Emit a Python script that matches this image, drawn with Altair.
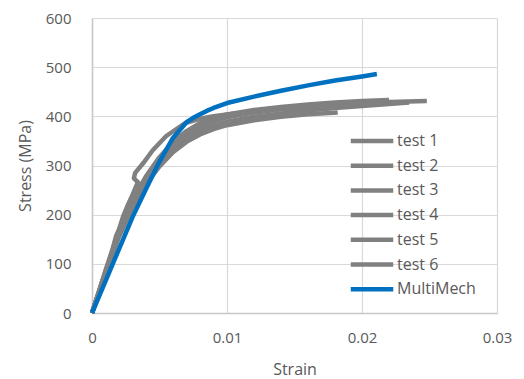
import altair as alt
import pandas as pd

series_names = ["test 1", "test 2", "test 3", "test 4", "test 5", "test 6", "MultiMech"]

test1_strain = [0, 0.001, 0.002, 0.003, 0.004, 0.005, 0.006, 0.007, 0.008, 0.009, 0.010, 0.012, 0.014, 0.016, 0.018, 0.020, 0.022, 0.0248]
test1_stress = [0, 82, 160, 225, 272, 310, 340, 362, 378, 390, 398, 408, 415, 420, 424, 427, 429, 431]

test2_strain = [0, 0.001, 0.002, 0.003, 0.004, 0.005, 0.006, 0.007, 0.008, 0.009, 0.010, 0.012, 0.014, 0.016, 0.018, 0.020, 0.0220]
test2_stress = [0, 85, 165, 230, 278, 317, 348, 370, 386, 397, 404, 413, 419, 424, 428, 431, 433]

test3_strain = [0, 0.001, 0.0015, 0.0018, 0.002, 0.0023, 0.0026, 0.003, 0.0034, 0.0031, 0.0032, 0.0038, 0.0045, 0.0055, 0.0069, 0.008, 0.009, 0.010, 0.012, 0.014, 0.016, 0.018, 0.0205]
test3_stress = [0, 86, 128, 158, 170, 196, 216, 240, 266, 274, 285, 305, 331, 360, 386, 395, 400, 404, 410, 415, 419, 422, 425]

test4_strain = [0, 0.001, 0.002, 0.003, 0.004, 0.005, 0.006, 0.007, 0.008, 0.009, 0.010, 0.012, 0.014, 0.016, 0.0182]
test4_stress = [0, 80, 155, 215, 262, 298, 327, 348, 363, 374, 382, 392, 399, 404, 408]

test5_strain = [0, 0.001, 0.002, 0.003, 0.004, 0.005, 0.006, 0.007, 0.008, 0.009, 0.010, 0.012, 0.014, 0.016, 0.018, 0.021]
test5_stress = [0, 83, 162, 226, 275, 313, 344, 366, 382, 393, 400, 409, 415, 419, 422, 426]

test6_strain = [0, 0.001, 0.002, 0.003, 0.004, 0.005, 0.006, 0.007, 0.008, 0.009, 0.010, 0.012, 0.014, 0.016, 0.018, 0.020, 0.0235]
test6_stress = [0, 81, 158, 220, 268, 305, 334, 355, 370, 381, 389, 399, 406, 412, 417, 421, 428]

mm_strain = [0, 0.001, 0.002, 0.003, 0.004, 0.005, 0.006, 0.007, 0.0075, 0.008, 0.0085, 0.009, 0.010, 0.012, 0.014, 0.016, 0.018, 0.020, 0.0211]
mm_stress = [0, 65, 130, 195, 252, 308, 356, 388, 397, 404, 411, 417, 427, 440, 452, 463, 473, 481, 486]

all_series = [
    (test1_strain, test1_stress),
    (test2_strain, test2_stress),
    (test3_strain, test3_stress),
    (test4_strain, test4_stress),
    (test5_strain, test5_stress),
    (test6_strain, test6_stress),
    (mm_strain, mm_stress),
]

rows = []
for name, (xs, ys) in zip(series_names, all_series):
    for i, (x, y) in enumerate(zip(xs, ys)):
        rows.append({"series": name, "strain": x, "stress": y, "idx": i})
df = pd.DataFrame(rows)

colors = ["#808080"] * 6 + ["#0070C0"]
widths = [4.5, 4.5, 4.5, 3.5, 3.5, 3.5, 3]

font = "Open Sans"
txt = "#595959"

legend_kw = dict(orient="none", legendX=269, legendY=112,
                 symbolType="M-2.5,0H2.5", symbolSize=289, rowPadding=4.7, labelOffset=14,
                 labelFont=font, labelFontSize=16, labelColor=txt)

chart = alt.Chart(df).mark_line(strokeCap="butt", strokeJoin="round").encode(
    x=alt.X("strain:Q", title="Strain",
            scale=alt.Scale(domain=[0, 0.03], nice=False),
            axis=alt.Axis(values=[0, 0.01, 0.02, 0.03],
                          labelExpr="datum.value == 0 ? '0' : format(datum.value, '.2f')",
                          labelFlush=False, labelPadding=17, titlePadding=16)),
    y=alt.Y("stress:Q", title="Stress (MPa)",
            scale=alt.Scale(domain=[0, 600], nice=False),
            axis=alt.Axis(values=[0, 100, 200, 300, 400, 500, 600], labelFlush=False,
                          labelPadding=21, titlePadding=12)),
    color=alt.Color("series:N", scale=alt.Scale(domain=series_names, range=colors), title=None,
                    legend=alt.Legend(**legend_kw)),
    strokeWidth=alt.StrokeWidth("series:N", scale=alt.Scale(domain=series_names, range=widths), title=None,
                                legend=alt.Legend(**legend_kw)),
    order=alt.Order("idx:Q"),
    detail="series:N",
).properties(
    width=405, height=295,
    autosize=alt.AutoSizeParams(type="none"),
    padding={"left": 92, "top": 18, "right": 27, "bottom": 66},
).configure_view(stroke=None).configure_axis(
    grid=True, gridColor="#d9d9d9", gridWidth=1.2,
    domainColor="#c8c8c8", domainWidth=1.5, ticks=False,
    labelFont=font, labelFontSize=15, labelColor=txt,
    titleFont=font, titleFontSize=16, titleColor=txt, titleFontWeight="normal",
).configure_legend(
    labelFont=font, labelFontSize=16, labelColor=txt, padding=0
)

chart.save("out.html", embed_options={"renderer": "svg", "actions": False})
